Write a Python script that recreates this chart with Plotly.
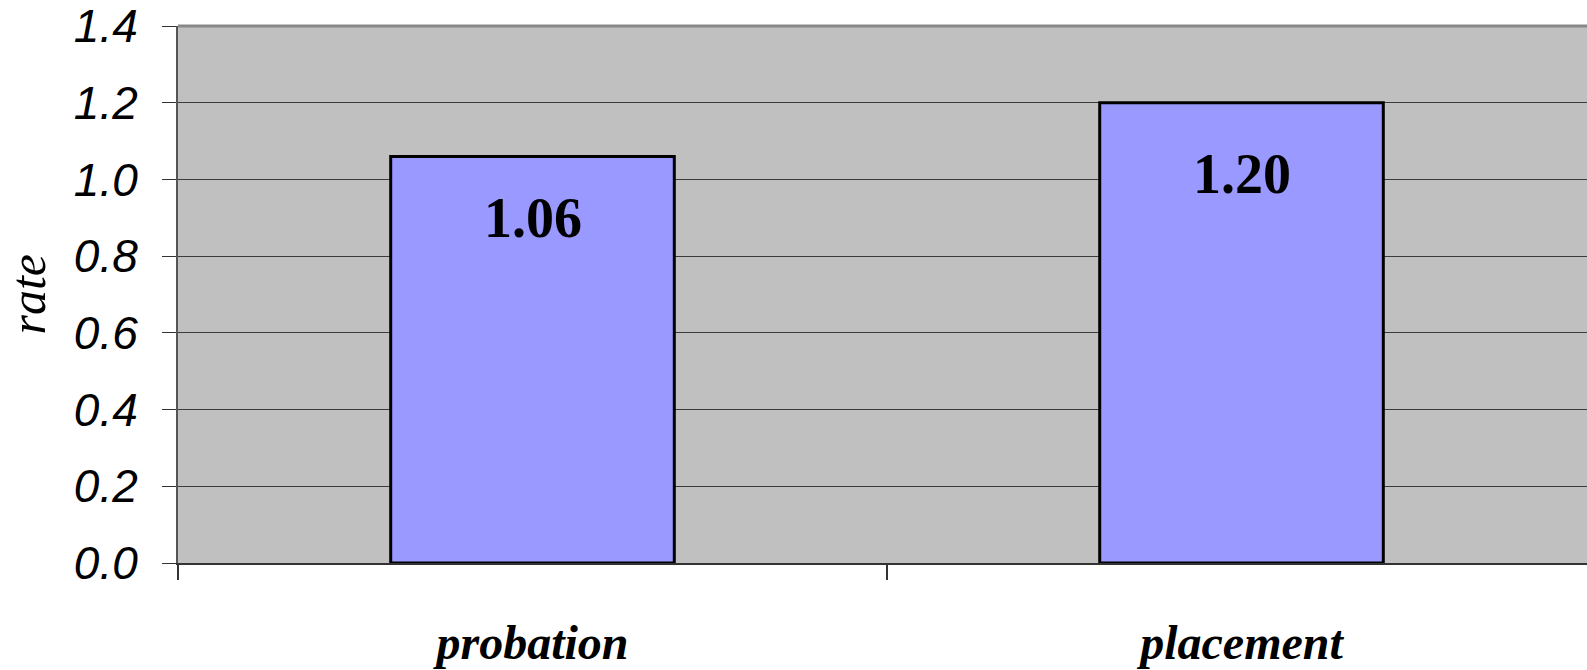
import plotly.graph_objects as go

# Data
categories = ["probation", "placement"]
rates = [1.06, 1.20]
y_ticks = [0.0, 0.2, 0.4, 0.6, 0.8, 1.0, 1.2, 1.4]

W, H = 1587, 670
L, T, B = 178, 24, 107
plot_w = W - L

fig = go.Figure()
fig.add_trace(go.Bar(
    x=categories,
    y=rates,
    width=0.4,
    marker=dict(color="#9999FF", line=dict(color="#000000", width=3)),
    hoverinfo="skip",
))

# Value labels inside the bars, near the top
label_shift = [-62, -71]
for cat, val, sh in zip(categories, rates, label_shift):
    fig.add_annotation(
        x=cat, y=val, text=f"{val:.2f}", showarrow=False, yshift=sh,
        font=dict(family="Liberation Serif", size=56, color="#000000", weight="bold"),
    )

# Y-axis title
fig.add_annotation(
    xref="paper", yref="paper", x=(27 - L) / plot_w, y=0.5,
    text="rate", textangle=-90, showarrow=False, xanchor="center", yanchor="middle",
    font=dict(family="Liberation Serif", size=50, color="#000000", style="italic"),
)

# Gray top border of plot area
fig.add_shape(type="line", xref="paper", yref="paper", x0=0, x1=1, y0=1, y1=1,
              line=dict(color="#888888", width=3), layer="above")

cat_px = 709.0
fig.update_layout(
    width=W, height=H,
    margin=dict(l=L, r=0, t=T, b=B, pad=0),
    paper_bgcolor="#FFFFFF",
    plot_bgcolor="#C0C0C0",
    showlegend=False,
    xaxis=dict(
        type="category",
        range=[-0.5, -0.5 + plot_w / cat_px],
        tickson="boundaries",
        ticks="outside", ticklen=15, tickwidth=2, tickcolor="#333333",
        showline=True, linecolor="#333333", linewidth=2,
        showgrid=False, zeroline=False,
        tickfont=dict(family="Liberation Serif", size=48, color="#000000",
                      weight="bold", style="italic"),
        ticklabelstandoff=36,
    ),
    yaxis=dict(
        range=[0, 1.4],
        tickvals=y_ticks,
        ticktext=[f"{v:.1f}" for v in y_ticks],
        ticks="outside", ticklen=14, tickwidth=1, tickcolor="#333333",
        showline=True, linecolor="#555555", linewidth=2,
        showgrid=True, gridcolor="#3c3c3c", gridwidth=1,
        zeroline=False,
        tickfont=dict(family="Liberation Sans", size=46, color="#000000", style="italic"),
        ticklabelstandoff=15,
        ticklabeloverflow="allow",
    ),
)

fig.write_html("out.html")
